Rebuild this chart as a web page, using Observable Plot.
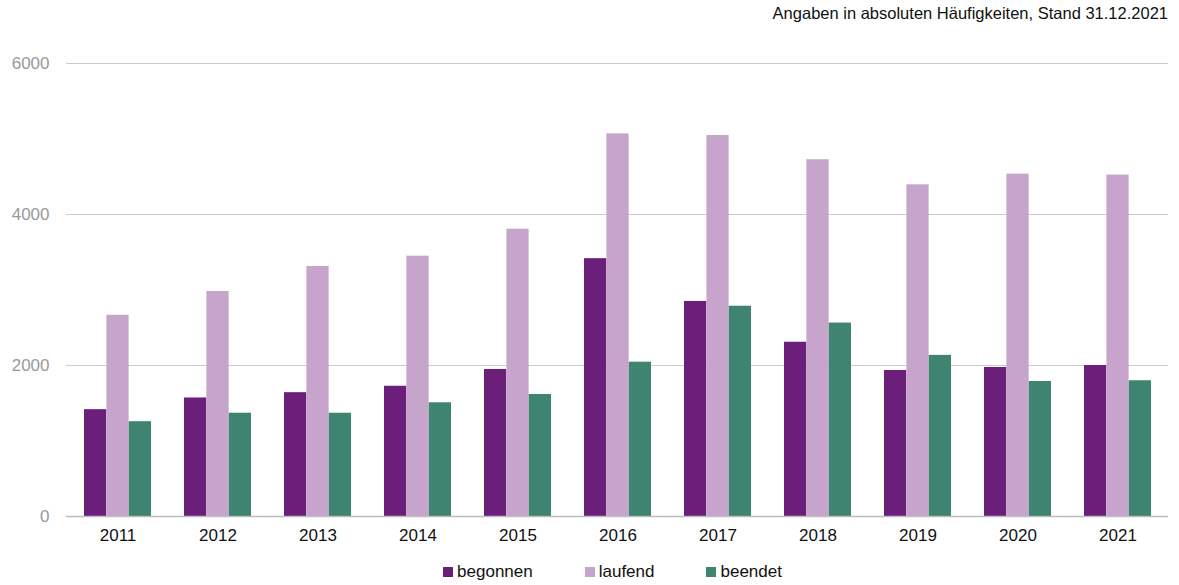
<!DOCTYPE html>
<html>
<head>
<meta charset="utf-8">
<script src="https://cdn.jsdelivr.net/npm/d3@7"></script>
<script src="https://cdn.jsdelivr.net/npm/@observablehq/plot@0.6"></script>
<style>
  html, body { margin: 0; padding: 0; background: #fff; font-family: "Liberation Sans", Arial, sans-serif; }
  #wrap { width: 1179px; }
  #title { height: 30px; box-sizing: border-box; padding-top: 4px; padding-right: 11px; text-align: right; font-size: 16.5px; color: #111; line-height: 19px; }
  #legend { display: flex; justify-content: center; gap: 52px; margin-top: 6px; padding-left: 46px; font-size: 17px; color: #111; line-height: 20px; }
  #legend .item { display: flex; align-items: center; gap: 4px; }
  #legend .sw { width: 10px; height: 10px; display: inline-block; }
</style>
</head>
<body>
<div id="wrap">
  <div id="title"></div>
  <div id="chart"></div>
  <div id="legend"></div>
</div>
<script>
const titleText = "Angaben in absoluten Häufigkeiten, Stand 31.12.2021";
const years = ["2011","2012","2013","2014","2015","2016","2017","2018","2019","2020","2021"];
const seriesNames = ["begonnen","laufend","beendet"];
const seriesColors = ["#6c1e7b","#c6a4cb","#3e8470"];
const begonnen = [1415, 1570, 1640, 1725, 1947, 3415, 2848, 2308, 1934, 1974, 2000];
const laufend  = [2665, 2980, 3312, 3448, 3805, 5068, 5046, 4725, 4393, 4535, 4522];
const beendet  = [1256, 1368, 1368, 1506, 1616, 2044, 2785, 2562, 2134, 1788, 1798];
const yTicks = [0, 2000, 4000, 6000];

document.getElementById("title").textContent = titleText;

const seriesValues = [begonnen, laufend, beendet];
const data = [];
seriesNames.forEach((s, si) => years.forEach((y, yi) => data.push({year: y, series: s, value: seriesValues[si][yi]})));

const W = 1179, mL = 66, mR = 11;
const pInner = 0.33, pOuter = 0.165;
const step = (W - mL - mR) / (years.length - pInner + 2 * pOuter);
const third = step * (1 - pInner) / 3;

const colorOf = Object.fromEntries(seriesNames.map((s, i) => [s, seriesColors[i]]));
const barMarks = seriesNames.map((s, i) => Plot.barY(data.filter(d => d.series === s), {
  x: "year", y: "value", fill: colorOf[s],
  insetLeft: third * i, insetRight: third * (2 - i)
}));

const chart = Plot.plot({
  width: W,
  height: 526,
  marginLeft: mL,
  marginRight: mR,
  marginTop: 33,
  marginBottom: 40,
  style: {fontFamily: '"Liberation Sans", Arial, sans-serif', fontSize: "17px", background: "#fff"},
  x: {domain: years, paddingInner: pInner, paddingOuter: pOuter, label: null, tickSize: 0, tickPadding: 13},
  y: {domain: [0, 6000], ticks: yTicks, label: null, tickSize: 0, tickPadding: 17, grid: false},
  marks: [
    Plot.gridY(yTicks, {stroke: "#cccccc", strokeOpacity: 1}),
    ...barMarks,
    Plot.ruleY([0], {stroke: "#bdbdbd", strokeWidth: 1.5}),
    Plot.axisY(yTicks, {tickSize: 0, tickPadding: 17, fill: "#999", label: null, tickFormat: d => String(d)}),
    Plot.axisX({tickSize: 0, tickPadding: 12, fill: "#111", label: null})
  ]
});
document.getElementById("chart").appendChild(chart);

const legend = document.getElementById("legend");
seriesNames.forEach((s, i) => {
  const item = document.createElement("span");
  item.className = "item";
  const sw = document.createElement("span");
  sw.className = "sw";
  sw.style.background = seriesColors[i];
  const t = document.createElement("span");
  t.textContent = s;
  item.appendChild(sw); item.appendChild(t);
  legend.appendChild(item);
});
</script>
</body>
</html>
